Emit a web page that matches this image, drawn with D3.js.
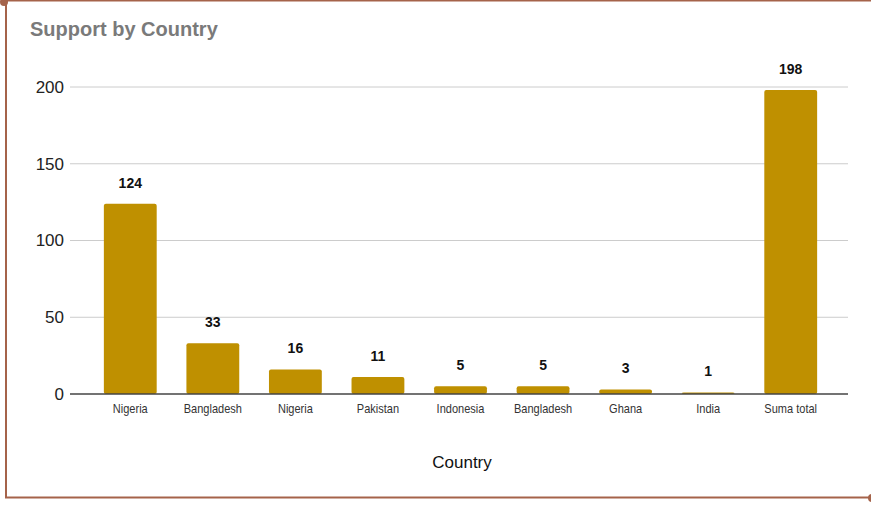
<!DOCTYPE html>
<html>
<head>
<meta charset="utf-8">
<script src="https://cdn.jsdelivr.net/npm/d3@7"></script>
<style>
  body { margin: 0; background: #fff; }
  svg { display: block; font-family: Arial, "Liberation Sans", sans-serif; }
</style>
</head>
<body>
<div id="chart-area"></div>
<script>
var countries = ["Nigeria", "Bangladesh", "Nigeria", "Pakistan", "Indonesia", "Bangladesh", "Ghana", "India", "Suma total"];
var support = [124, 33, 16, 11, 5, 5, 3, 1, 198];
var yTicks = [0, 50, 100, 150, 200];

var data = countries.map(function(c, i){
    return {key: i, name: c, value: support[i]};
});

var width = 871, height = 509;

var svg = d3.select("#chart-area")
    .append("svg")
    .attr("width", width)
    .attr("height", height);

// frame
svg.append("rect")
    .attr("x", 6)
    .attr("y", 0.5)
    .attr("width", 880)
    .attr("height", 497)
    .attr("fill", "none")
    .attr("stroke", "#a5634a")
    .attr("stroke-width", 2);
svg.append("circle").attr("cx", 4).attr("cy", 2).attr("r", 4).attr("fill", "#a5634a");
svg.append("circle").attr("cx", 872).attr("cy", 498).attr("r", 4).attr("fill", "#a5634a");

svg.append("text")
    .attr("x", 30)
    .attr("y", 36)
    .attr("font-size", "20px")
    .attr("font-weight", "bold")
    .attr("fill", "#7a7a7a")
    .text("Support by Country");

var x = d3.scaleBand()
    .domain(data.map(function(d){ return d.key; }))
    .range([89, 832])
    .paddingInner(0.36)
    .paddingOuter(0.18);

var y = d3.scaleLinear()
    .domain([0, 200])
    .range([394, 87]);

// gridlines
svg.append("g")
    .selectAll("line")
    .data(yTicks.slice(1))
    .enter()
    .append("line")
    .attr("x1", 70)
    .attr("x2", 848)
    .attr("y1", function(d){ return y(d); })
    .attr("y2", function(d){ return y(d); })
    .attr("stroke", "#cccccc")
    .attr("stroke-width", 1);

var yAxisCall = d3.axisLeft(y).tickValues(yTicks).tickSize(0).tickPadding(0);
var yAxis = svg.append("g")
    .attr("transform", "translate(64,0)")
    .call(yAxisCall);
yAxis.select(".domain").remove();
yAxis.selectAll("text")
    .attr("font-size", "17px")
    .attr("font-family", "Arial, 'Liberation Sans', sans-serif")
    .attr("fill", "#222");

// bars
svg.selectAll("rect.bar")
    .data(data)
    .enter()
    .append("rect")
    .attr("class", "bar")
    .attr("x", function(d){ return x(d.key); })
    .attr("y", function(d){ return y(d.value); })
    .attr("width", x.bandwidth())
    .attr("height", function(d){ return y(0) - y(d.value); })
    .attr("rx", 2)
    .attr("fill", "#bf9000");

// baseline
svg.append("line")
    .attr("x1", 70)
    .attr("x2", 848)
    .attr("y1", y(0))
    .attr("y2", y(0))
    .attr("stroke", "#444")
    .attr("stroke-width", 1.5);

var xAxisCall = d3.axisBottom(x)
    .tickSize(0)
    .tickPadding(10)
    .tickFormat(function(k){ return countries[k]; });
var xAxis = svg.append("g")
    .attr("transform", "translate(0," + y(0) + ")")
    .call(xAxisCall);
xAxis.select(".domain").remove();
xAxis.selectAll("text")
    .attr("font-size", "12px")
    .attr("font-family", "Arial, 'Liberation Sans', sans-serif")
    .attr("fill", "#333")
    .attr("transform", "scale(0.92,1)");

// value labels
svg.selectAll("text.value")
    .data(data)
    .enter()
    .append("text")
    .attr("class", "value")
    .attr("x", function(d){ return x(d.key) + x.bandwidth()/2; })
    .attr("y", function(d){ return y(d.value) - 16; })
    .attr("text-anchor", "middle")
    .attr("font-size", "14px")
    .attr("font-weight", "bold")
    .attr("fill", "#111")
    .text(function(d){ return d.value; });

svg.append("text")
    .attr("x", 462)
    .attr("y", 468)
    .attr("text-anchor", "middle")
    .attr("font-size", "17px")
    .attr("fill", "#111")
    .text("Country");
</script>
</body>
</html>
